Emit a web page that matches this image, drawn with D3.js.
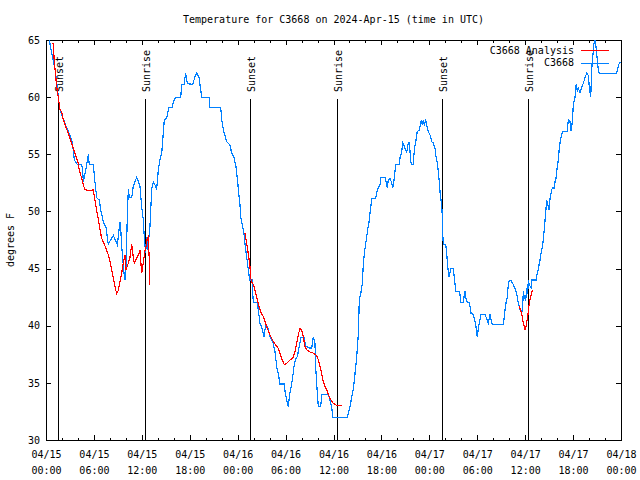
<!DOCTYPE html>
<html>
<head>
<meta charset="utf-8">
<script src="https://cdn.jsdelivr.net/npm/d3@7"></script>
<style>
  html, body { margin: 0; padding: 0; background: #fff; }
  svg text { font-family: "DejaVu Sans Mono", monospace; font-size: 10px; fill: #000; }
</style>
</head>
<body>
<svg id="chart" width="640" height="480"></svg>
<script>
// ---------------- data (hours since 2024-04-15 00:00 UTC, degrees F) ----------------
const chartTitle = "Temperature for C3668 on 2024-Apr-15 (time in UTC)";
const yLabel = "degrees F";
const seriesNames = ["C3668 Analysis", "C3668"];
const seriesColors = ["#ff0000", "#0080ff"];

const obsHours = [0.41,0.75,1.13,1.38,1.54,1.75,2.38,3.22,3.42,3.54,3.92,4.47,4.60,4.67,5.10,5.30,5.42,5.92,6.14,6.35,6.67,6.89,7.18,7.51,7.80,8.01,8.43,8.93,9.27,9.35,9.48,9.77,9.89,10.02,10.18,10.31,10.43,10.73,10.93,11.36,11.56,11.77,11.98,12.18,12.31,12.48,12.61,12.73,13.02,13.24,13.44,13.86,14.06,14.27,14.49,14.69,14.81,15.11,15.40,15.82,15.94,16.24,16.87,16.99,17.28,17.49,17.69,18.37,18.66,18.87,19.16,19.50,20.45,20.46,21.88,22.00,22.29,22.63,23.04,23.25,23.54,23.79,24.00,24.17,24.29,24.38,24.63,24.79,24.96,25.21,25.38,25.54,25.79,25.96,26.46,26.58,26.80,27.01,27.30,27.51,27.76,28.05,28.39,28.68,28.89,29.09,29.30,29.80,29.97,30.14,30.34,30.47,30.68,30.89,31.05,31.22,31.47,31.72,31.93,32.31,32.52,32.97,33.27,33.47,33.68,33.77,33.97,34.10,34.40,34.52,35.35,35.56,35.78,35.90,36.06,37.73,38.07,38.28,38.48,38.69,38.91,39.11,39.23,39.41,39.61,39.73,39.86,40.03,40.16,40.28,40.45,40.57,40.70,40.78,41.28,41.41,41.61,41.82,41.95,42.45,42.66,42.74,42.86,43.08,43.29,43.41,43.58,43.70,43.79,44.24,44.33,44.54,44.67,44.83,44.95,45.17,45.37,45.49,45.67,45.74,45.99,46.12,46.33,46.49,46.74,46.92,46.99,47.12,47.24,47.37,47.55,47.67,47.80,48.08,48.30,48.50,48.71,48.84,49.00,49.12,49.25,49.34,49.46,49.59,49.62,49.67,49.75,50.05,50.18,50.25,50.38,50.46,50.59,50.71,51.00,51.13,51.25,51.34,51.75,51.84,51.97,52.26,52.34,52.47,52.59,52.76,53.01,53.09,53.22,53.51,53.63,53.81,53.93,54.01,54.13,54.26,54.47,54.97,55.18,55.38,55.60,55.81,56.01,57.26,57.35,57.48,57.60,57.76,57.89,58.01,58.23,58.44,58.64,58.94,59.14,59.35,59.57,59.69,59.77,59.89,60.07,60.19,60.32,60.39,60.52,60.73,60.86,61.36,61.45,61.65,61.77,61.86,61.98,62.07,62.27,62.40,62.52,62.70,62.82,62.99,63.11,63.32,63.45,63.65,63.74,63.86,63.95,64.07,64.20,64.27,64.49,64.70,65.28,65.40,65.61,65.74,65.90,66.03,66.24,66.37,66.53,66.65,66.87,67.08,67.28,67.49,67.71,67.91,68.03,68.21,68.33,68.46,68.62,68.78,68.96,69.16,69.28,71.46,71.59,71.79,71.96];
const obsTemps = [65.0,63.7,62.5,61.1,60.0,58.9,57.7,56.25,55.4,54.5,54.1,54.1,53.5,52.6,54.1,55.0,54.1,54.1,52.5,51.2,51.0,50.0,49.1,48.6,47.1,47.4,47.9,47.1,49.1,48.6,46.9,44.6,44.0,45.3,49.5,52.0,51.2,51.2,52.2,53.0,52.6,52.2,50.4,49.3,47.7,46.4,47.8,46.6,48.7,52.0,52.6,52.0,53.6,54.5,55.1,56.9,58.0,58.2,59.1,59.1,59.6,60.0,60.0,61.1,61.1,62.1,61.2,61.1,61.8,62.1,61.7,60.0,60.0,59.1,59.1,58.0,56.9,56.1,55.8,55.1,54.7,53.9,52.6,51.3,50.6,49.5,48.6,48.1,46.9,45.6,44.6,44.0,44.0,42.0,42.0,41.4,40.2,39.9,39.0,40.1,39.9,39.0,38.6,37.7,36.4,35.8,34.9,34.9,34.1,33.5,32.9,33.8,34.6,35.5,36.4,37.0,37.3,38.2,39.0,39.0,38.2,38.05,38.05,39.0,38.5,36.4,34.1,32.9,32.9,34.0,34.0,33.5,32.9,32.0,32.0,32.0,32.9,33.8,34.4,35.8,37.3,39.3,42.25,42.8,43.7,45.3,46.3,47.2,47.8,48.4,49.1,49.9,50.6,51.1,51.1,51.7,52.05,52.3,53.0,53.0,52.3,52.05,52.75,52.9,52.5,52.05,52.75,53.5,54.1,54.1,54.7,55.2,56.0,55.8,55.5,55.2,56.0,56.0,54.5,54.1,54.1,55.4,56.25,57.0,57.1,57.7,58.0,57.6,58.0,57.6,58.0,57.6,57.1,56.7,56.1,56.0,55.5,54.8,54.2,53.5,52.6,51.7,51.0,50.1,49.5,48.1,47.1,47.1,46.4,45.5,44.7,44.3,44.7,45.0,45.0,44.2,43.4,43.0,43.0,42.7,42.0,42.0,42.5,43.0,42.4,42.0,42.0,41.7,41.1,41.0,40.6,40.1,39.3,39.0,39.8,40.2,41.0,41.0,40.6,40.2,41.0,40.2,40.1,40.1,40.6,41.4,42.0,42.5,43.6,43.95,43.95,43.7,43.4,42.8,42.0,41.4,41.1,41.7,43.0,42.5,42.25,43.3,42.8,44.0,43.6,43.3,44.0,44.0,44.4,44.9,45.5,45.75,46.3,46.6,47.5,48.5,49.5,51.0,50.6,50.1,51.1,51.9,52.05,52.05,52.6,52.9,53.5,54.1,54.8,55.6,56.5,57.0,57.0,58.0,57.85,57.0,57.85,59.3,60.0,61.1,60.5,60.8,60.4,60.9,61.2,61.7,62.1,61.9,60.9,60.0,62.4,63.5,64.7,65.0,63.8,62.4,62.1,62.1,62.5,63.0,63.0];

// analysis series: three separate night-time segments
const anaHoursA = [0.71,0.91,1.04,1.34,1.54,1.75,1.97,2.17,3.01,3.42,3.63,4.04,4.17,4.47,4.67,4.88,5.51,5.92,6.05,6.22,6.42,6.60,6.76,6.97,7.26,7.60,7.80,8.01,8.23,8.43,8.64,8.85,9.05,9.27,9.48,9.68,9.89,10.02,10.23,10.52,10.73,10.93,11.06,11.36,11.65,11.77,11.98,12.18,12.40,12.52,12.68,12.81,12.93,12.94];
const anaTempsA = [64.7,64.65,63.1,60.9,60.0,58.9,58.7,58.0,56.4,55.5,55.1,54.2,53.6,52.9,52.3,51.9,51.8,51.9,51.3,50.6,49.8,49.1,48.4,47.65,47.2,46.6,46.2,45.6,44.9,44.15,43.4,42.8,43.1,43.85,44.6,45.5,46.2,44.9,45.3,46.0,47.1,46.0,45.5,45.9,46.3,46.6,44.6,45.5,46.6,46.9,47.65,47.8,45.75,43.6];
const anaHoursB = [24.92,25.13,25.33,25.54,25.63,25.76,25.96,26.17,26.38,26.67,26.88,27.21,27.64,28.05,28.46,28.89,29.09,29.30,29.59,29.84,30.14,30.55,30.89,31.18,31.39,31.59,31.81,32.02,32.22,32.43,32.64,33.06,33.47,33.90,34.10,34.31,34.52,34.72,34.94,35.15,35.35,35.56,35.78,35.98,36.19,36.48,37.03];
const anaTempsB = [48.1,47.2,46.3,45.2,44.2,43.85,43.6,43.1,42.5,41.7,41.2,40.8,39.9,39.2,38.6,38.2,38.0,37.6,37.0,36.6,36.7,37.0,37.15,37.7,38.45,39.2,39.8,39.6,39.0,38.2,37.9,37.7,37.6,37.4,37.0,36.4,35.8,35.1,34.7,34.4,34.0,33.65,33.4,33.2,33.1,33.0,33.0];
const anaHoursC = [59.27,59.57,59.77,59.98,60.10,60.32,60.52,60.69,60.89];
const anaTempsC = [41.7,41.0,40.25,39.6,39.9,40.8,42.0,42.5,43.1];

// sun events
const sunLabels = ["Sunset","Sunrise","Sunset","Sunrise","Sunset","Sunrise"];
const sunHours = [1.54,12.43,25.58,36.48,49.62,60.39];

// axes
const yTicks = [30,35,40,45,50,55,60,65];
const xStart = Date.UTC(2024,3,15,0,0);
const xEnd = Date.UTC(2024,3,18,0,0);

// ---------------- drawing ----------------
const svg = d3.select("#chart");
const L = 46, R = 621, T = 40, B = 440;
const toDate = h => new Date(xStart + h * 3600e3);

const x = d3.scaleUtc().domain([new Date(xStart), new Date(xEnd)]).range([L, R]);
const y = d3.scaleLinear().domain([30, 65]).range([B, T]);

svg.append("text").attr("x", (L + R) / 2).attr("y", 23)
   .attr("text-anchor", "middle").text(chartTitle);

// y label
svg.append("text").attr("transform", `translate(14,${(T + B) / 2}) rotate(-90)`)
   .attr("text-anchor", "middle").text(yLabel);

const majorX = d3.utcHour.every(6).range(new Date(xStart), new Date(xEnd + 1));
const minorX = d3.utcHour.every(2).range(new Date(xStart), new Date(xEnd + 1)).filter(d => d.getUTCHours() % 6 !== 0);

function styleAxis(g) {
  g.select(".domain").remove();
  g.selectAll(".tick line").attr("stroke", "#000").attr("shape-rendering", "crispEdges");
}

// bottom axis (major with labels)
const gb = svg.append("g").attr("transform", `translate(0,${B})`)
  .call(d3.axisBottom(x).tickValues(majorX).tickSizeInner(-5).tickSizeOuter(0).tickPadding(8)
        .tickFormat(d3.utcFormat("%m/%d")));
styleAxis(gb);
gb.selectAll(".tick text").each(function(d) {
  const t = d3.select(this);
  t.text(null).attr("y", null).attr("dy", null);
  t.append("tspan").attr("x", 0).attr("y", 18).text(d3.utcFormat("%m/%d")(d));
  t.append("tspan").attr("x", 0).attr("y", 34).text(d3.utcFormat("%H:%M")(d));
});
svg.append("g").attr("transform", `translate(0,${B})`)
  .call(d3.axisBottom(x).tickValues(minorX).tickSizeInner(-2.5).tickSizeOuter(0).tickFormat(""))
  .call(styleAxis);
// top axis
svg.append("g").attr("transform", `translate(0,${T})`)
  .call(d3.axisTop(x).tickValues(majorX).tickSizeInner(-5).tickSizeOuter(0).tickFormat(""))
  .call(styleAxis);
svg.append("g").attr("transform", `translate(0,${T})`)
  .call(d3.axisTop(x).tickValues(minorX).tickSizeInner(-2.5).tickSizeOuter(0).tickFormat(""))
  .call(styleAxis);
// left axis
const gl = svg.append("g").attr("transform", `translate(${L},0)`)
  .call(d3.axisLeft(y).tickValues(yTicks).tickSizeInner(-5).tickSizeOuter(0).tickPadding(6).tickFormat(d3.format("d")));
styleAxis(gl);
// right axis
svg.append("g").attr("transform", `translate(${R},0)`)
  .call(d3.axisRight(y).tickValues(yTicks).tickSizeInner(-5).tickSizeOuter(0).tickFormat(""))
  .call(styleAxis);

// frame
svg.append("rect").attr("x", L + 0.5).attr("y", T + 0.5).attr("width", R - L).attr("height", B - T)
   .attr("fill", "none").attr("stroke", "#000").attr("stroke-width", 1);

// sun event lines
const sun = sunHours.map((h, i) => ({ h, label: sunLabels[i] }));
const sg = svg.append("g");
sg.selectAll("line").data(sun).join("line")
  .attr("x1", d => Math.round(x(toDate(d.h))) + 0.5).attr("x2", d => Math.round(x(toDate(d.h))) + 0.5)
  .attr("y1", 99).attr("y2", B).attr("stroke", "#000").attr("stroke-width", 1)
  .attr("shape-rendering", "crispEdges");
sg.selectAll("text").data(sun).join("text")
  .attr("transform", d => `translate(${Math.round(x(toDate(d.h))) + 5},92) rotate(-90)`)
  .attr("text-anchor", "start").text(d => d.label);

// data lines
const line = d3.line().x(d => x(toDate(d[0]))).y(d => y(d[1]));
const clip = svg.append("clipPath").attr("id", "clip").append("rect")
  .attr("x", L).attr("y", T).attr("width", R - L + 1).attr("height", B - T + 1);
const plot = svg.append("g").attr("clip-path", "url(#clip)");

plot.append("path").datum(d3.zip(obsHours, obsTemps))
  .attr("d", line).attr("fill", "none").attr("stroke", seriesColors[1]).attr("stroke-width", 1.2)
  .attr("shape-rendering", "crispEdges");
[[anaHoursA, anaTempsA], [anaHoursB, anaTempsB], [anaHoursC, anaTempsC]].forEach(([hs, ts]) => {
  plot.append("path").datum(d3.zip(hs, ts))
    .attr("d", line).attr("fill", "none").attr("stroke", seriesColors[0]).attr("stroke-width", 1.2)
    .attr("shape-rendering", "crispEdges");
});

// legend
const lg = svg.append("g");
seriesNames.forEach((name, i) => {
  const yy = 50 + i * 12.5;
  lg.append("text").attr("x", 574).attr("y", yy).attr("dy", "0.35em")
    .attr("text-anchor", "end").text(name);
  lg.append("line").attr("x1", 581).attr("x2", 609).attr("y1", Math.round(yy) + 0.5).attr("y2", Math.round(yy) + 0.5)
    .attr("stroke", seriesColors[i]).attr("stroke-width", 1).attr("shape-rendering", "crispEdges");
});
</script>
</body>
</html>
